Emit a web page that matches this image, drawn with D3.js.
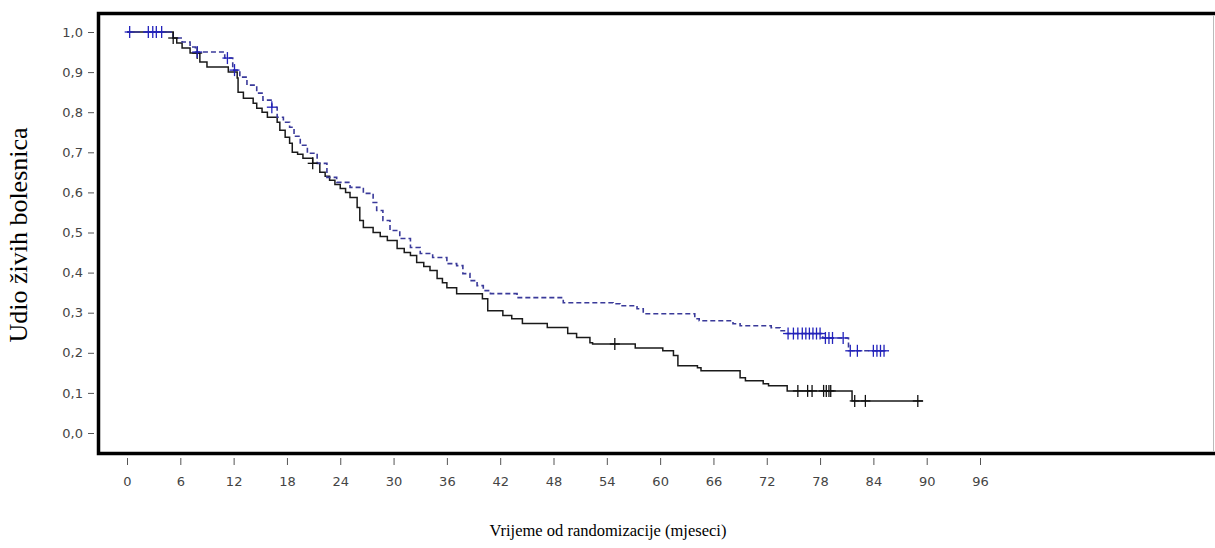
<!DOCTYPE html>
<html>
<head>
<meta charset="utf-8">
<script src="https://cdn.jsdelivr.net/npm/d3@7"></script>
<style>
  body { margin: 0; background: #fff; }
  svg { display: block; }
</style>
</head>
<body>
<div id="chart"></div>
<script>
// vrijeme (mjeseci) i udio zivih - stepenice Kaplan-Meier
var blackSteps = [[0,1],[5.2,0.985],[5.6,0.9725],[6.2,0.96],[7.1,0.9475],[8.2,0.925],[9.0,0.9125],[11.4,0.90],
  [12.4,0.885],[12.5,0.85],[13.1,0.835],[14.2,0.8225],[14.6,0.81],[15.2,0.80],[15.8,0.7875],[16.9,0.775],
  [17.2,0.755],[17.8,0.7375],[18.3,0.7225],[18.6,0.70],[19.2,0.695],[19.8,0.685],[20.9,0.6725],[21.7,0.65],
  [22.3,0.64],[22.8,0.63],[23.4,0.62],[24.0,0.61],[24.6,0.60],[25.1,0.5875],[25.9,0.5625],[26.2,0.53],
  [26.6,0.5125],[27.7,0.50],[28.5,0.49],[29.3,0.48],[30.4,0.46],[31.2,0.45],[31.9,0.4425],[32.6,0.425],
  [33.4,0.415],[34.1,0.405],[34.9,0.385],[35.5,0.375],[36.0,0.3625],[37.1,0.3475],[40.0,0.335],[40.6,0.305],
  [42.3,0.293],[43.3,0.285],[44.5,0.273],[47.3,0.263],[49.6,0.248],[50.6,0.238],[52.1,0.225],[52.4,0.222],
  [57.2,0.212],[60.3,0.205],[61.5,0.193],[62.0,0.168],[64.2,0.163],[64.6,0.155],[69.0,0.138],[69.6,0.13],
  [71.6,0.123],[72.2,0.118],[74.3,0.105],[81.6,0.08],[89.6,0.08]];

var blueSteps = [[0,1],[5.2,0.985],[6.2,0.975],[7.1,0.9625],[7.7,0.95],[11.0,0.935],[11.9,0.905],[12.7,0.8875],
  [13.5,0.8675],[14.6,0.8475],[15.3,0.83],[16.3,0.8125],[16.9,0.7875],[17.6,0.775],[18.3,0.7625],[18.8,0.74],
  [19.5,0.7175],[20.3,0.6975],[21.4,0.6725],[22.5,0.6375],[23.6,0.625],[25.1,0.6125],[26.6,0.5975],[27.7,0.575],
  [28.1,0.555],[28.8,0.53],[29.6,0.505],[30.7,0.485],[31.9,0.4625],[33.0,0.4475],[34.4,0.4375],[36.0,0.4225],
  [37.1,0.4175],[37.8,0.3975],[38.6,0.38],[39.4,0.3675],[40.1,0.355],[40.9,0.3475],[43.9,0.3375],[49.1,0.325],
  [54.7,0.3225],[55.5,0.3175],[57.4,0.31],[58.1,0.2975],[63.9,0.285],[64.4,0.28],[68.2,0.2725],[69.0,0.2675],
  [72.5,0.2625],[73.5,0.255],[74.2,0.248],[78.3,0.237],[81.2,0.205],[85.7,0.205]];

var blackCensored = [[5.2,0.985],[7.9,0.9475],[20.9,0.6725],[54.9,0.222],[75.5,0.105],[76.6,0.105],[77.1,0.105],
  [78.4,0.105],[78.7,0.105],[79.0,0.105],[79.2,0.105],[81.9,0.08],[83.1,0.08],[89.0,0.08]];

var blueCensored = [[0.3,1],[2.4,1],[2.9,1],[3.3,1],[3.9,1],[7.9,0.95],[11.3,0.935],[12.1,0.905],[16.3,0.8125],
  [74.4,0.248],[75.0,0.248],[75.5,0.248],[76.0,0.248],[76.4,0.248],[76.8,0.248],[77.2,0.248],[77.6,0.248],
  [78.0,0.248],[78.6,0.237],[79.0,0.237],[79.4,0.237],[80.6,0.237],[81.4,0.205],[82.2,0.205],[84.0,0.205],
  [84.4,0.205],[84.8,0.205],[85.2,0.205]];

var xTicks = [0, 6, 12, 18, 24, 30, 36, 42, 48, 54, 60, 66, 72, 78, 84, 90, 96];
var yTicks = [0, 0.1, 0.2, 0.3, 0.4, 0.5, 0.6, 0.7, 0.8, 0.9, 1.0];

var width = 1215;
var height = 548;

var svg = d3.select('#chart').append("svg")
  .attr("width", width)
  .attr("height", height);

var xScale = d3.scaleLinear().domain([0, 96]).range([127, 980]);
var yScale = d3.scaleLinear().domain([0, 1]).range([433, 32]);

// okvir
svg.append("path")
  .attr("d", "M1216,13.5 H98.5 V453.5 H1216")
  .attr("fill", "none")
  .attr("stroke", "#000")
  .attr("stroke-width", 3.5);
svg.append("line")
  .attr("x1", 1213.5).attr("x2", 1213.5).attr("y1", 15).attr("y2", 452)
  .attr("stroke", "#bbb").attr("stroke-width", 1);

var xAxis = d3.axisBottom(xScale).tickValues(xTicks).tickSize(7).tickPadding(12);
var yAxis = d3.axisLeft(yScale).tickValues(yTicks).tickSize(6).tickPadding(5)
  .tickFormat(function(d) { return d.toFixed(1).replace(".", ","); });

var gx = svg.append("g")
  .attr("transform", "translate(0,458)")
  .call(xAxis);
var gy = svg.append("g")
  .attr("transform", "translate(94,0)")
  .call(yAxis);

[gx, gy].forEach(function(g) {
  g.select(".domain").remove();
  g.selectAll(".tick line").attr("stroke", "#555");
  g.selectAll(".tick text")
    .attr("fill", "#444")
    .style("font-family", "'DejaVu Sans', sans-serif")
    .style("font-size", "13px");
});

var line = d3.line()
  .curve(d3.curveStepAfter)
  .x(function(d) { return xScale(d[0]); })
  .y(function(d) { return yScale(d[1]); });

svg.append("path")
  .attr("d", line(blackSteps))
  .attr("fill", "none")
  .attr("stroke", "#1a1a1a")
  .attr("stroke-width", 1.5);

svg.append("path")
  .attr("d", line(blueSteps))
  .attr("fill", "none")
  .attr("stroke", "#3a3a9a")
  .attr("stroke-width", 1.6)
  .attr("stroke-dasharray", "5,3");

function censorMarks(data, color) {
  var g = svg.append("g").attr("stroke", color).attr("stroke-width", 1.3);
  g.selectAll("line.v").data(data).enter().append("line")
    .attr("x1", function(d) { return xScale(d[0]); })
    .attr("x2", function(d) { return xScale(d[0]); })
    .attr("y1", function(d) { return yScale(d[1]) - 6; })
    .attr("y2", function(d) { return yScale(d[1]) + 6; });
  g.selectAll("line.h").data(data).enter().append("line")
    .attr("x1", function(d) { return xScale(d[0]) - 5; })
    .attr("x2", function(d) { return xScale(d[0]) + 5; })
    .attr("y1", function(d) { return yScale(d[1]); })
    .attr("y2", function(d) { return yScale(d[1]); });
}
censorMarks(blackCensored, "#111");
censorMarks(blueCensored, "#2222bb");

svg.append("text")
  .attr("x", 608)
  .attr("y", 536)
  .attr("text-anchor", "middle")
  .style("font-family", "'Liberation Serif', 'Times New Roman', serif")
  .style("font-size", "16.5px")
  .text("Vrijeme od randomizacije (mjeseci)");

svg.append("text")
  .attr("transform", "translate(27,235) rotate(-90)")
  .attr("text-anchor", "middle")
  .style("font-family", "'Liberation Serif', 'Times New Roman', serif")
  .style("font-size", "26px")
  .text("Udio živih bolesnica");
</script>
</body>
</html>
